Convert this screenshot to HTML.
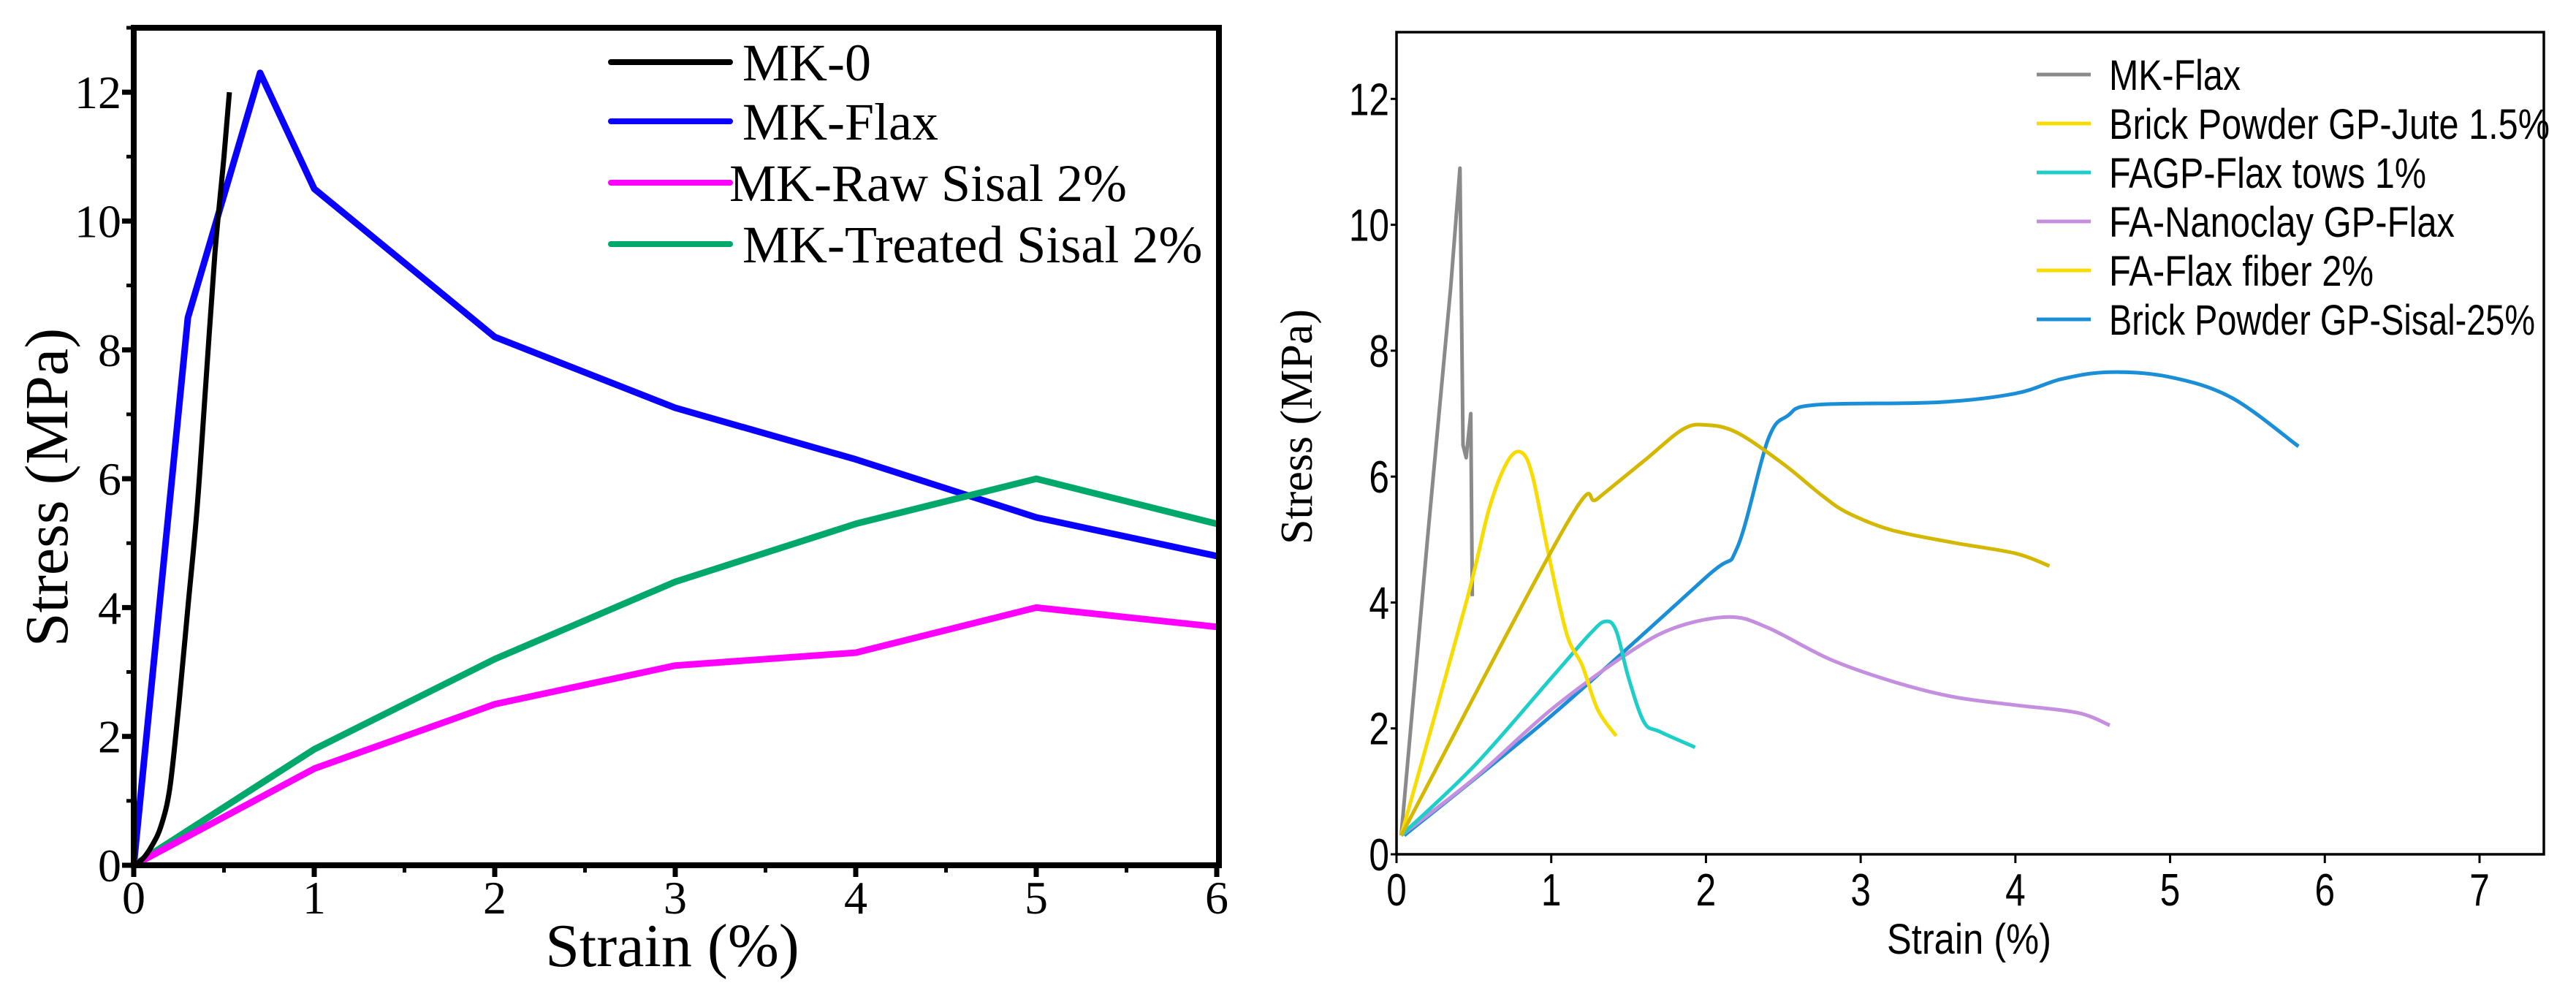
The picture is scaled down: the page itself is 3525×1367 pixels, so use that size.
<!DOCTYPE html>
<html><head><meta charset="utf-8"><style>
html,body{margin:0;padding:0;background:#fff;}
svg{display:block;}
.serif{font-family:"Liberation Serif",serif;}
.sans{font-family:"Liberation Sans",sans-serif;}
</style></head><body>
<svg id="chart" width="3525" height="1367" viewBox="0 0 3525 1367" xmlns="http://www.w3.org/2000/svg">
<g id="left"></g>
<g id="right"></g>
</svg>
<script>
// ---------- Left chart data ----------
const leftXTicks = [0,1,2,3,4,5,6];
const leftYTicks = [0,2,4,6,8,10,12];
const leftNames = ["MK-0","MK-Flax","MK-Raw Sisal 2%","MK-Treated Sisal 2%"];
const mk0X = [0,0.05,0.1,0.15,0.2,0.25,0.3,0.35,0.4,0.45,0.5,0.53];
const mk0Y = [0,0.1,0.3,0.6,1.2,2.5,4,5.5,7.5,9.5,11,12];
const mkFlaxX = [0,0.3,0.7,1,2,3,4,5,6];
const mkFlaxY = [0,8.5,12.3,10.5,8.2,7.1,6.3,5.4,4.8];
const rawX = [0,1,2,3,4,5,6];
const rawY = [0,1.5,2.5,3.1,3.3,4,3.7];
const treatedX = [0,1,2,3,4,5,6];
const treatedY = [0,1.8,3.2,4.4,5.3,6,5.3];

// ---------- Right chart data ----------
const rightXTicks = [0,1,2,3,4,5,6,7];
const rightYTicks = [0,2,4,6,8,10,12];
const rightNames = ["MK-Flax","Brick Powder GP-Jute 1.5%","FAGP-Flax tows 1%","FA-Nanoclay GP-Flax","FA-Flax fiber 2%","Brick Powder GP-Sisal-25%"];
const rFlaxX = [0.03,0.2,0.35,0.41,0.43,0.45,0.48,0.49];
const rFlaxY = [0.3,5,9,10.9,6.5,6.3,7.0,4.1];
const juteX = [0.03,1.1,1.3,1.6,1.85,2.0,2.2,2.5,2.75,2.92,3.2,3.6,4.0,4.22];
const juteY = [0.3,5.25,5.65,6.25,6.75,6.82,6.7,6.2,5.7,5.42,5.15,4.95,4.78,4.58];
const towsX = [0.03,0.5,1.0,1.25,1.35,1.42,1.5,1.6,1.7,1.93];
const towsY = [0.3,1.4,2.8,3.5,3.7,3.55,2.8,2.1,1.95,1.7];
const nanoX = [0.03,0.5,1.0,1.5,1.8,2.15,2.4,2.8,3.2,3.6,4.0,4.4,4.61];
const nanoY = [0.3,1.2,2.3,3.2,3.6,3.77,3.6,3.1,2.75,2.5,2.37,2.25,2.05];
const fiberX = [0.03,0.45,0.6,0.72,0.81,0.88,0.98,1.1,1.2,1.3,1.42];
const fiberY = [0.3,4.0,5.5,6.25,6.38,6.0,4.8,3.5,3.0,2.3,1.88];
const sisalX = [0.05,1.0,2.0,2.2,2.4,2.53,2.71,3.5,4.0,4.3,4.61,5.0,5.4,5.83];
const sisalY = [0.3,2.2,4.4,4.86,6.58,6.97,7.14,7.18,7.32,7.55,7.66,7.58,7.25,6.48];

const NS="http://www.w3.org/2000/svg";
function mk(tag,attrs,parent){const e=document.createElementNS(NS,tag);for(const k in attrs)e.setAttribute(k,attrs[k]);parent.appendChild(e);return e;}

const L={x0:183,x1:1665,y0:1184,y1:38,xmax:6,ymax:13};
const lx=v=>L.x0+(L.x1-L.x0)*v/L.xmax;
const ly=v=>L.y0-(L.y0-L.y1)*v/L.ymax;
const R={x0:1911,x1:3393,y0:1169,y1:44,xmax:7,ymax:13.06};
const rx=v=>R.x0+(R.x1-R.x0)*v/R.xmax;
const ry=v=>R.y0-(R.y0-R.y1)*v/R.ymax;

const lg=document.getElementById('left');
const rg=document.getElementById('right');

function path(xs,ys,fx,fy){return xs.map((v,i)=>(i?'L':'M')+fx(v).toFixed(1)+','+fy(ys[i]).toFixed(1)).join(' ');}
function smooth(xs,ys,fx,fy){
  const p=xs.map((v,i)=>[fx(v),fy(ys[i])]);
  let d='M'+p[0][0].toFixed(1)+','+p[0][1].toFixed(1);
  for(let i=0;i<p.length-1;i++){
    const p0=p[i-1]||p[i],p1=p[i],p2=p[i+1],p3=p[i+2]||p2;
    const c1=[p1[0]+(p2[0]-p0[0])/6,p1[1]+(p2[1]-p0[1])/6];
    const c2=[p2[0]-(p3[0]-p1[0])/6,p2[1]-(p3[1]-p1[1])/6];
    d+=' C'+c1.map(n=>n.toFixed(1)).join(',')+' '+c2.map(n=>n.toFixed(1)).join(',')+' '+p2[0].toFixed(1)+','+p2[1].toFixed(1);
  }
  return d;
}

// Left series
const leftSeries=[[mkFlaxX,mkFlaxY,'#0a00ff',9,'series-mk-flax',false],[treatedX,treatedY,'#00a86b',9,'series-mk-treated-sisal',false],[rawX,rawY,'#ff00ff',9,'series-mk-raw-sisal',false],[mk0X,mk0Y,'#000',7,'series-mk-0',true]];
const clipL=mk('clipPath',{id:'cl'},lg);mk('rect',{x:L.x0,y:L.y1,width:L.x1-L.x0+3,height:L.y0-L.y1},clipL);
leftSeries.forEach(s=>{
  const d=s[5]?smooth(s[0],s[1],lx,ly):path(s[0],s[1],lx,ly);
  const p=mk('path',{d:d,fill:'none',stroke:s[2],'stroke-width':s[3],'stroke-linejoin':'round','clip-path':'url(#cl)'},lg);
  
  
});
const lf=mk('rect',{x:L.x0,y:L.y1,width:1485,height:L.y0-L.y1,fill:'none',stroke:'#000','stroke-width':8},lg);


leftXTicks.forEach(v=>{
  mk('line',{x1:lx(v),x2:lx(v),y1:L.y0,y2:L.y0+16,stroke:'#000','stroke-width':7},lg);
  if(v<6) mk('line',{x1:lx(v+0.5),x2:lx(v+0.5),y1:L.y0,y2:L.y0+10,stroke:'#000','stroke-width':5},lg);
  const t=mk('text',{x:lx(v),y:L.y0+66,'text-anchor':'middle','font-size':64,class:'serif'},lg);t.textContent=v;
  
  
});
leftYTicks.forEach(v=>{
  mk('line',{x1:L.x0-16,x2:L.x0,y1:ly(v),y2:ly(v),stroke:'#000','stroke-width':7},lg);
  mk('line',{x1:L.x0-10,x2:L.x0,y1:ly(v+1),y2:ly(v+1),stroke:'#000','stroke-width':5},lg);
  const t=mk('text',{x:166,y:ly(v)+22,'text-anchor':'end','font-size':64,class:'serif'},lg);t.textContent=v;
  
  
});
let t=mk('text',{x:920,y:1322,'text-anchor':'middle','font-size':84,class:'serif'},lg);t.textContent='Strain (%)';

t=mk('text',{x:0,y:0,'text-anchor':'middle','font-size':84,class:'serif',transform:'translate(92,667) rotate(-90)'},lg);t.textContent='Stress (MPa)';

const legL=[['#000',85,1016],['#0a00ff',166,1016],['#ff00ff',250,998],['#00a86b',334,1016]];
legL.forEach((e,i)=>{
  const g=mk('g',{},lg);
  
  
  mk('line',{x1:836,x2:999,y1:e[1],y2:e[1],stroke:e[0],'stroke-width':8,'stroke-linecap':'round'},g);
  const tx=mk('text',{x:e[2],y:e[1]+25,'font-size':72,class:'serif'},g);tx.textContent=leftNames[i];
});

// Right series
const rightSeries=[[rFlaxX,rFlaxY,'#8a8a8a','series-r-mk-flax',false],[sisalX,sisalY,'#1a8fd8','series-brick-sisal',true],[nanoX,nanoY,'#c58fe0','series-fa-nanoclay',true],[towsX,towsY,'#1ecfc9','series-fagp-flax-tows',true],[fiberX,fiberY,'#f8dc00','series-fa-flax-fiber',true],[juteX,juteY,'#d4b800','series-brick-jute',true]];
rightSeries.forEach(s=>{
  const d=s[4]?smooth(s[0],s[1],rx,ry):path(s[0],s[1],rx,ry);
  const p=mk('path',{d:d,fill:'none',stroke:s[2],'stroke-width':5,'stroke-linejoin':'round'},rg);
  
  
});
const rf=mk('rect',{x:R.x0,y:R.y1,width:3481-R.x0,height:R.y0-R.y1,fill:'none',stroke:'#000','stroke-width':3.5},rg);


rightXTicks.forEach(v=>{
  mk('line',{x1:rx(v),x2:rx(v),y1:R.y0,y2:R.y0+12,stroke:'#000','stroke-width':3},rg);
  const t=mk('text',{x:rx(v),y:R.y0+70,'text-anchor':'middle','font-size':62,class:'sans',transform:'translate('+(rx(v)*0.2)+',0) scale(0.8,1)'},rg);t.textContent=v;
  
  
});
rightYTicks.forEach(v=>{
  mk('line',{x1:R.x0-8,x2:R.x0,y1:ry(v),y2:ry(v),stroke:'#000','stroke-width':3},rg);
  const xx=R.x0-10;
  const t=mk('text',{x:xx,y:ry(v)+22,'text-anchor':'end','font-size':62,class:'sans',transform:'translate('+(xx*0.2)+',0) scale(0.8,1)'},rg);t.textContent=v;
  
  
});
t=mk('text',{x:2582,y:1305,'font-size':58,class:'sans',textLength:225,lengthAdjust:'spacingAndGlyphs'},rg);t.textContent='Strain (%)';

t=mk('text',{x:0,y:0,'text-anchor':'middle','font-size':62,class:'serif',transform:'translate(1795,584) rotate(-90)'},rg);t.textContent='Stress (MPa)';

const legRColors=['#8a8a8a','#f8dc00','#1ecfc9','#c58fe0','#f8dc00','#1a8fd8'];
const legRWidths=[180,603,434,473,362,583];
legRColors.forEach((c,i)=>{
  const y=102+i*67;
  const g=mk('g',{},rg);
  
  
  mk('line',{x1:2787,x2:2861,y1:y,y2:y,stroke:c,'stroke-width':5},g);
  const tx=mk('text',{x:2886,y:y+21,'font-size':58,class:'sans',textLength:legRWidths[i],lengthAdjust:'spacingAndGlyphs'},g);tx.textContent=rightNames[i];
});
</script>
</body></html>
